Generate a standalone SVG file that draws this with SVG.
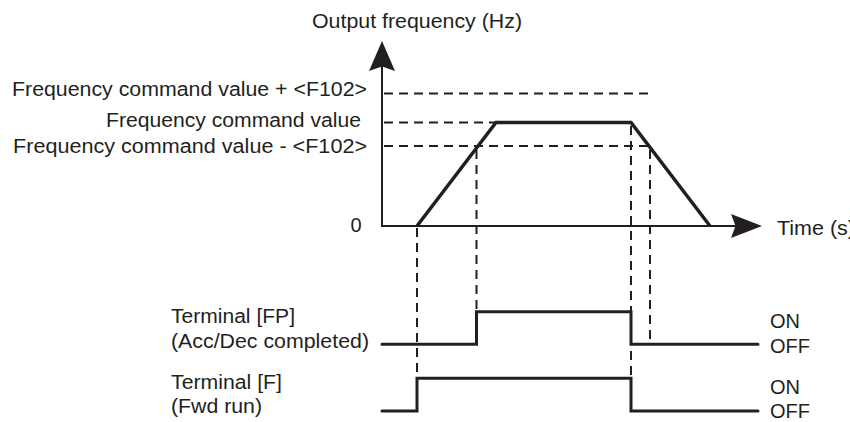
<svg xmlns="http://www.w3.org/2000/svg" width="850" height="422" viewBox="0 0 850 422">
<style>
text{font-family:"Liberation Sans",Arial,Helvetica,sans-serif;font-size:20px;fill:#231f20}
.axis{stroke:#231f20;stroke-width:2;fill:none}
.dash{stroke:#231f20;stroke-width:2;fill:none;stroke-dasharray:9 6}
.wave{stroke:#231f20;stroke-width:3.5;fill:none;stroke-linejoin:miter}
.sig{stroke:#231f20;stroke-width:3;fill:none;stroke-linecap:round;stroke-linejoin:miter}
.head{fill:#231f20}
</style>
<rect width="850" height="422" fill="#ffffff"/>
<g id="axes">
<line class="axis" x1="382" y1="227" x2="382" y2="66"/>
<polygon class="head" points="382,41 395,71 382,66.5 369,71"/>
<line class="axis" x1="381" y1="226" x2="736" y2="226"/>
<polygon class="head" points="762,226 731,214 735.5,226 731,238"/>
<text id="y-label" x="312" y="28" textLength="210" lengthAdjust="spacingAndGlyphs">Output frequency (Hz)</text>
<text id="x-label" x="777" y="235" textLength="78" lengthAdjust="spacingAndGlyphs">Time (s)</text>
<text id="zero" x="356" y="232" text-anchor="middle">0</text>
</g>
<g id="levels">
<text x="12" y="95.5" textLength="355" lengthAdjust="spacingAndGlyphs">Frequency command value + &lt;F102&gt;</text>
<text x="106" y="126.5" textLength="255" lengthAdjust="spacingAndGlyphs">Frequency command value</text>
<text x="13" y="153" textLength="354" lengthAdjust="spacingAndGlyphs">Frequency command value -  &lt;F102&gt;</text>
</g>
<g id="connectors">
<line class="dash" x1="384" y1="93.5" x2="653" y2="93.5"/>
<line class="dash" x1="384" y1="122.5" x2="496" y2="122.5"/>
<line class="dash" x1="384" y1="146" x2="653" y2="146"/>
<line class="dash" x1="417" y1="228" x2="417" y2="378"/>
<line class="dash" x1="476.5" y1="150" x2="476.5" y2="311"/>
<line class="dash" x1="631" y1="126" x2="631" y2="411"/>
<line class="dash" x1="650" y1="150" x2="650" y2="344"/>
</g>
<g id="frequency-curve">
<polyline class="wave" points="417,226 496,122.5 631,122.5 710,226"/>
</g>
<g id="terminal-fp">
<text x="171" y="322.7" textLength="124" lengthAdjust="spacingAndGlyphs">Terminal [FP]</text>
<text x="171" y="347.5" textLength="198" lengthAdjust="spacingAndGlyphs">(Acc/Dec completed)</text>
<polyline class="sig" points="382,344.3 476.5,344.3 476.5,311.7 631,311.7 631,344.3 758,344.3"/>
<text x="770" y="328.3" textLength="30" lengthAdjust="spacingAndGlyphs">ON</text>
<text x="770" y="352.7" textLength="40" lengthAdjust="spacingAndGlyphs">OFF</text>
</g>
<g id="terminal-f">
<text x="171" y="389.3" textLength="111" lengthAdjust="spacingAndGlyphs">Terminal [F]</text>
<text x="171" y="412.7" textLength="91" lengthAdjust="spacingAndGlyphs">(Fwd run)</text>
<polyline class="sig" points="382,411 417,411 417,378.3 631,378.3 631,411 758,411"/>
<text x="770" y="394.3" textLength="30" lengthAdjust="spacingAndGlyphs">ON</text>
<text x="770" y="417.7" textLength="40" lengthAdjust="spacingAndGlyphs">OFF</text>
</g>
</svg>
